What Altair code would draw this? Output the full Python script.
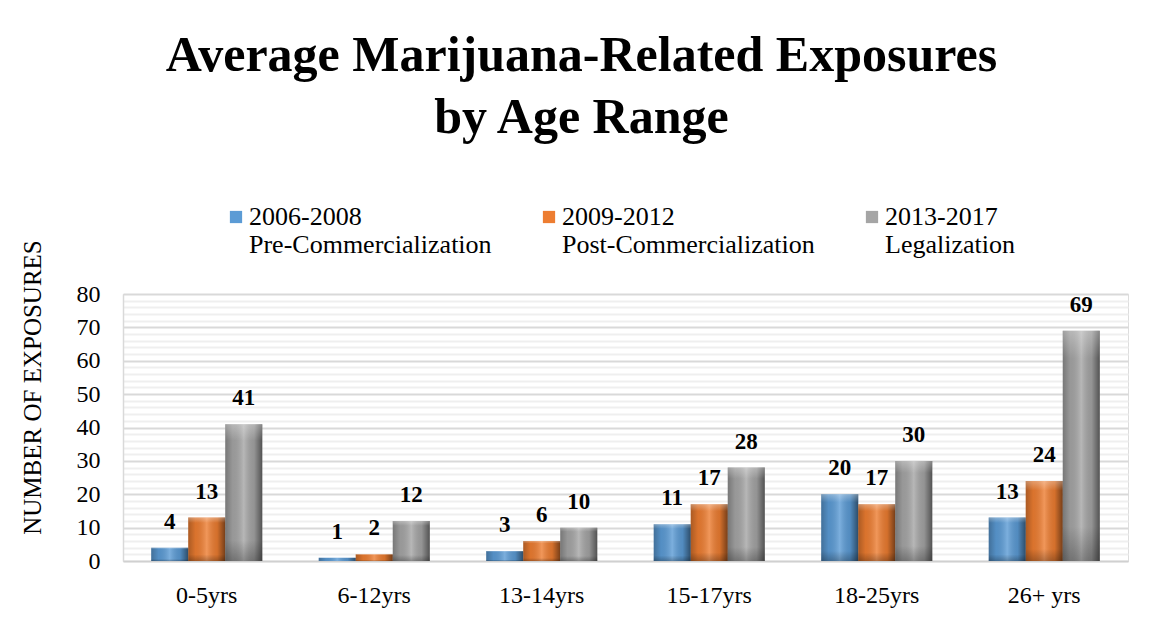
import altair as alt
import pandas as pd

categories = ["0-5yrs", "6-12yrs", "13-14yrs", "15-17yrs", "18-25yrs", "26+ yrs"]
series = [
    "2006-2008|Pre-Commercialization",
    "2009-2012|Post-Commercialization",
    "2013-2017|Legalization",
]
pre_commercialization = [4, 1, 3, 11, 20, 13]
post_commercialization = [13, 2, 6, 17, 17, 24]
legalization = [41, 12, 10, 28, 30, 69]
y_ticks = list(range(0, 81, 2))
colors = ["#5b9bd5", "#ed7d31", "#a5a5a5"]

rows = []
for s, vals in zip(series, [pre_commercialization, post_commercialization, legalization]):
    for c, v in zip(categories, vals):
        rows.append({"age": c, "period": s, "value": v})
df = pd.DataFrame(rows)

FONT = "Liberation Serif"

x = alt.X(
    "age:N",
    sort=categories,
    scale=alt.Scale(paddingInner=0.337, paddingOuter=0.1685),
    axis=alt.Axis(
        title=None, labelFontSize=24, labelPadding=22, labelAngle=0,
        domain=True, domainColor="#d0d0d0", domainWidth=1.5, ticks=False,
        labelColor="black", labelFont=FONT,
    ),
)
xo = alt.XOffset("period:N", sort=series, scale=alt.Scale(paddingInner=0, paddingOuter=0))
y = alt.Y(
    "value:Q",
    scale=alt.Scale(domain=[0, 80], nice=False),
    axis=alt.Axis(
        values=y_ticks,
        title="NUMBER OF EXPOSURES",
        titleFont=FONT, titleFontSize=25, titleFontWeight="normal", titleColor="black",
        titleX=-78, titleY=93,
        labelExpr="datum.value % 10 === 0 ? datum.label : ''",
        labelFont=FONT, labelFontSize=24, labelColor="black", labelPadding=23,
        gridColor={"condition": {"test": "datum.value % 10 === 0", "value": "#d9d9d9"}, "value": "#efefef"},
        gridWidth=2, ticks=False, domain=True, domainColor="#d9d9d9", domainWidth=1.5,
    ),
)

base = alt.Chart(df).encode(x=x, xOffset=xo, y=y)

bars = base.mark_bar(strokeWidth=0).encode(
    color=alt.Color(
        "period:N", sort=series,
        scale=alt.Scale(domain=series, range=colors),
        legend=alt.Legend(
            title=None, orient="none", legendX=100, legendY=-90,
            direction="horizontal", columns=3, columnPadding=44,
            symbolType="square", symbolSize=150, symbolStrokeWidth=0,
            labelFontSize=26, labelFont=FONT, labelColor="black", labelOffset=0,
            labelExpr="split(datum.label, '|')", labelLimit=400, padding=0,
        ),
    )
)

shade_h = base.mark_bar(
    fill=alt.Gradient(
        gradient="linear", x1=0, x2=1, y1=0, y2=0,
        stops=[
            alt.GradientStop(color="rgba(0,0,0,0.28)", offset=0),
            alt.GradientStop(color="rgba(0,0,0,0.08)", offset=0.2),
            alt.GradientStop(color="rgba(255,255,255,0.2)", offset=0.5),
            alt.GradientStop(color="rgba(0,0,0,0.1)", offset=0.78),
            alt.GradientStop(color="rgba(0,0,0,0.5)", offset=1),
        ],
    ),
    strokeWidth=0,
)

shade_v = base.mark_bar(
    fill=alt.Gradient(
        gradient="linear", x1=0, x2=0, y1=0, y2=1,
        stops=[
            alt.GradientStop(color="rgba(255,255,255,0.3)", offset=0),
            alt.GradientStop(color="rgba(255,255,255,0)", offset=0.12),
            alt.GradientStop(color="rgba(0,0,0,0)", offset=0.85),
            alt.GradientStop(color="rgba(0,0,0,0.25)", offset=1),
        ],
    ),
    strokeWidth=0,
)

labels = base.mark_text(
    dy=-19, fontSize=23, fontWeight="bold", font=FONT, baseline="alphabetic", color="black"
).encode(text="value:Q")

chart = (
    alt.layer(bars, shade_h, shade_v, labels)
    .properties(
        width=1005, height=267,
        autosize=alt.AutoSizeParams(type="none"),
        padding={"left": 115, "top": 286, "right": 14, "bottom": 72},
        title=alt.Title(
            ["Average Marijuana-Related Exposures", "by Age Range"],
            font=FONT, fontSize=50, fontWeight="bold", color="black",
            lineHeight=62, anchor="middle", dx=-44, offset=61,
        ),
    )
    .configure_view(stroke=None)
    .configure(background="white")
)

chart.save("out.html", embed_options={"renderer": "svg", "actions": False})
